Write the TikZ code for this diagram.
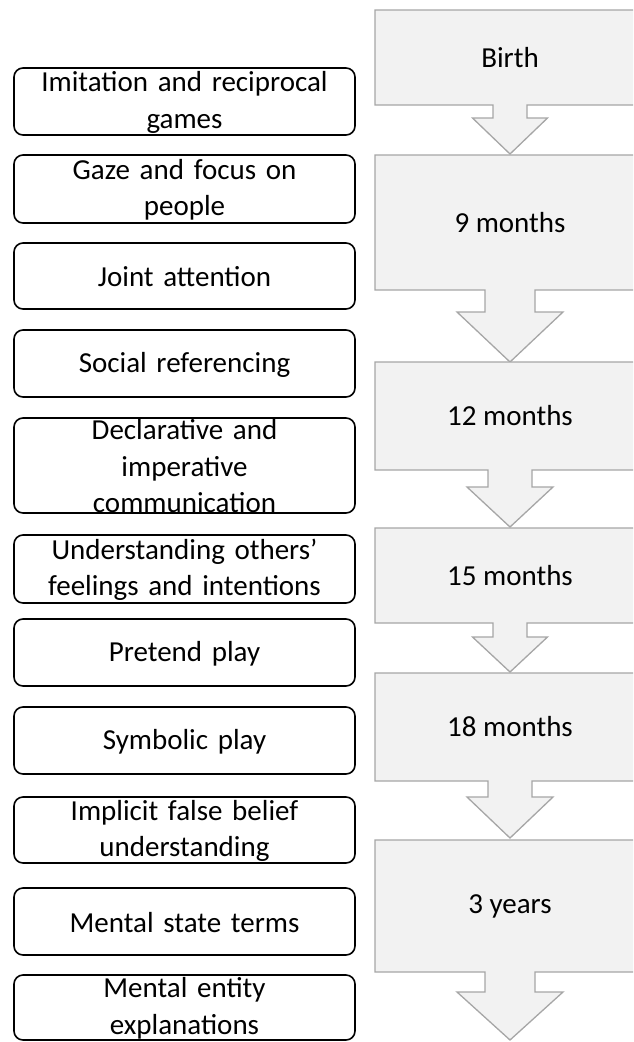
\documentclass[tikz,border=0pt]{standalone}
\usepackage{fontspec}
\setmainfont{Carlito}
\definecolor{stageline}{HTML}{A6A6A6}
\definecolor{stagefill}{HTML}{F2F2F2}
% stage callout: {name}{top}{bottom}{stem half-width}{head half-width}{head y}{tip y}{label}
\newcommand\stagecallout[8]{%
  \draw[stagebox] (375,#2) -- (645,#2) -- (645,#3) -- ({510+#4},#3) -- ({510+#4},#6)
    -- ({510+#5},#6) -- (510,#7) -- ({510-#5},#6) -- ({510-#4},#6) -- ({510-#4},#3)
    -- (375,#3) -- cycle;
  \node[stagelabel] (#1) at (510,{(#2+#3)/2}) {#8};}
% milestone box: {name}{top}{bottom}{text}
\newcommand\milestone[4]{%
  \node[itembox, minimum height={#3-#2}] (#1) at (184.5,{(#2+#3)/2}) {};
  \node[itemtext] (#1t) at ([yshift=-1pt]#1.center) {#4};}
\begin{document}
\begin{tikzpicture}[x=1pt,y=-1pt,
  stagebox/.style={draw=stageline, fill=stagefill, line width=1.3pt, line join=miter},
  stagelabel/.style={inner sep=0pt, font=\fontsize{29}{36.5}\selectfont},
  itembox/.style={draw=black, line width=1.6pt, rounded corners=9pt,
    minimum width=341pt, inner sep=0pt},
  itemtext/.style={inner sep=0pt, align=center, text width=341pt,
    font=\fontsize{29}{36.5}\selectfont}]
\useasboundingbox (0,0) rectangle (633,1042);
\clip (0,0) rectangle (633,1042);

% age stages on the right
\stagecallout{birth}{10}{105}{17}{37.5}{118}{154}{Birth}
\stagecallout{m9}{155}{290}{25}{53}{312}{362}{9 months}
\stagecallout{m12}{362}{470}{22}{43}{487}{527}{12 months}
\stagecallout{m15}{528}{623}{17}{37.5}{637}{672}{15 months}
\stagecallout{m18}{673}{781}{22}{43}{797}{838}{18 months}
\stagecallout{y3}{840}{972}{25}{53}{992}{1040}{3 years}

% milestones on the left
\milestone{a}{68}{135}{Imitation and reciprocal\\games}
\milestone{b}{155}{223}{Gaze and focus on\\people}
\milestone{c}{243}{309}{Joint attention}
\milestone{d}{330}{397}{Social referencing}
\milestone{e}{418}{513}{Declarative and\\imperative\\communication}
\milestone{f}{535}{603}{Understanding others’\\feelings and intentions}
\milestone{g}{619}{686}{Pretend play}
\milestone{h}{707}{774}{Symbolic play}
\milestone{i}{797}{863}{Implicit false belief\\understanding}
\milestone{j}{888}{955}{Mental state terms}
\milestone{k}{975}{1040}{Mental entity\\explanations}
\end{tikzpicture}
\end{document}
